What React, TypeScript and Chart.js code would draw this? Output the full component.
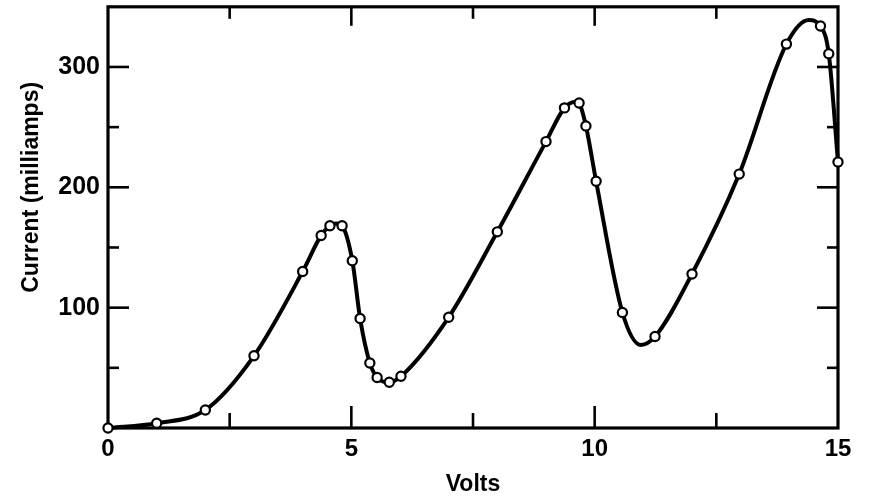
import React, { useEffect, useRef } from "react";
import { Chart, registerables } from "chart.js";

Chart.register(...registerables);

// Measured points (open circles)
const volts = [0, 1, 2, 3, 4, 4.38, 4.56, 4.81, 5.02, 5.18, 5.38, 5.53, 5.78, 6.02, 7, 8, 9, 9.38, 9.68, 9.82, 10.03, 10.57, 11.24, 12, 12.97, 13.94, 14.64, 14.81, 15];
const current = [0, 4, 15, 60, 130, 160, 168, 168, 139, 91, 54, 42, 38, 43, 92, 163, 238, 266, 270, 251, 205, 96, 76, 128, 211, 319, 334, 311, 221];

// Hand-drawn smooth curve through the points (with its own turning points)
const curveVolts = [0, 1, 2, 3, 4, 4.38, 4.56, 4.68, 4.81, 5.02, 5.18, 5.38, 5.53, 5.78, 6.02, 7, 8, 9, 9.38, 9.62, 9.68, 9.82, 10.03, 10.57, 10.95, 11.24, 12, 12.97, 13.94, 14.4, 14.64, 14.81, 15];
const curveCurrent = [0, 4, 15, 60, 130, 160, 168, 170, 168, 139, 91, 54, 42, 38, 43, 92, 163, 238, 266, 271, 270, 251, 205, 96, 69, 76, 128, 211, 319, 339, 334, 311, 221];

const xTickLabels = [0, 5, 10, 15];
const yTickLabels = [100, 200, 300];
const xMajorTicks = [5, 10];
const xMinorTicks = [2.5, 7.5, 12.5];
const yMajorTicks = [100, 200, 300];
const yMinorTicks = [50, 150, 250];

const FONT = '"Liberation Sans", Arial, Helvetica, sans-serif';

const framePlugin = {
  id: "frameTicks",
  beforeDatasetsDraw(chart: any) {
    const { ctx, chartArea } = chart;
    const { left, right, top, bottom } = chartArea;
    const x = chart.scales.x;
    const y = chart.scales.y;
    ctx.save();
    ctx.strokeStyle = "#000";
    ctx.lineWidth = 3.2;
    ctx.strokeRect(left, top, right - left, bottom - top);
    ctx.lineWidth = 2.6;
    const line = (x1: number, y1: number, x2: number, y2: number) => {
      ctx.beginPath();
      ctx.moveTo(x1, y1);
      ctx.lineTo(x2, y2);
      ctx.stroke();
    };
    xMajorTicks.forEach((v) => {
      const p = x.getPixelForValue(v);
      line(p, bottom, p, bottom - 22);
      line(p, top, p, top + 19);
    });
    xMinorTicks.forEach((v) => {
      const p = x.getPixelForValue(v);
      line(p, bottom, p, bottom - 15);
      line(p, top, p, top + 12);
    });
    yMajorTicks.forEach((v) => {
      const p = y.getPixelForValue(v);
      line(left, p, left + 21, p);
      line(right, p, right - 21, p);
    });
    yMinorTicks.forEach((v) => {
      const p = y.getPixelForValue(v);
      line(left, p, left + 11, p);
      line(right, p, right - 11, p);
    });
    ctx.restore();
  },
  afterDraw(chart: any) {
    const { ctx } = chart;
    const y = chart.scales.y;
    ctx.save();
    ctx.translate(32, y.getPixelForValue(200));
    ctx.rotate(-Math.PI / 2);
    ctx.fillStyle = "#000";
    ctx.font = `bold 23px ${FONT}`;
    ctx.textAlign = "center";
    ctx.textBaseline = "middle";
    ctx.fillText("Current (milliamps)", 0, 0);
    ctx.restore();
  },
};

export default function App() {
  const ref = useRef<HTMLCanvasElement | null>(null);
  useEffect(() => {
    if (!ref.current) return;
    const chart = new Chart(ref.current, {
      type: "scatter",
      data: {
        datasets: [
          {
            type: "line",
            label: "curve",
            data: curveVolts.map((v, i) => ({ x: v, y: curveCurrent[i] })),
            borderColor: "#000",
            borderWidth: 4,
            pointRadius: 0,
            cubicInterpolationMode: "monotone",
            fill: false,
            order: 2,
            clip: false,
          } as any,
          {
            label: "points",
            data: volts.map((v, i) => ({ x: v, y: current[i] })),
            showLine: false,
            pointRadius: 4.6,
            pointBorderWidth: 2.2,
            pointBackgroundColor: "#fff",
            pointBorderColor: "#000",
            order: 1,
            clip: false,
          } as any,
        ],
      },
      options: {
        responsive: false,
        animation: false,
        events: [],
        layout: { padding: { left: 0, top: 6, right: 34, bottom: 0 } },
        plugins: { legend: { display: false }, tooltip: { enabled: false } },
        scales: {
          x: {
            type: "linear",
            min: 0,
            max: 15,
            grid: { display: false, drawTicks: false },
            border: { display: false },
            afterBuildTicks: (s: any) => {
              s.ticks = xTickLabels.map((v) => ({ value: v }));
            },
            afterFit: (s: any) => {
              s.height = 70;
              s.paddingLeft = 0;
              s.paddingRight = 0;
            },
            ticks: {
              color: "#000",
              padding: 7,
              font: { family: FONT, size: 24, weight: "bold" },
              maxRotation: 0,
              autoSkip: false,
            },
            title: {
              display: true,
              text: "Volts",
              color: "#000",
              font: { family: FONT, size: 23, weight: "bold" },
              padding: { top: 0, bottom: 0 },
            },
          },
          y: {
            type: "linear",
            min: 0,
            max: 350,
            grid: { display: false, drawTicks: false },
            border: { display: false },
            afterBuildTicks: (s: any) => {
              s.ticks = yTickLabels.map((v) => ({ value: v }));
            },
            afterFit: (s: any) => {
              s.width = 108;
              s.paddingTop = 0;
              s.paddingBottom = 0;
            },
            ticks: {
              color: "#000",
              padding: 8,
              font: { family: FONT, size: 25, weight: "bold" },
              autoSkip: false,
            },
          },
        },
      },
      plugins: [framePlugin],
    });
    return () => chart.destroy();
  }, []);
  return (
    <div style={{ position: "fixed", left: 0, top: 0, width: 872, height: 498, background: "#fff" }}>
      <canvas ref={ref} width={872} height={498} style={{ display: "block" }} />
    </div>
  );
}
